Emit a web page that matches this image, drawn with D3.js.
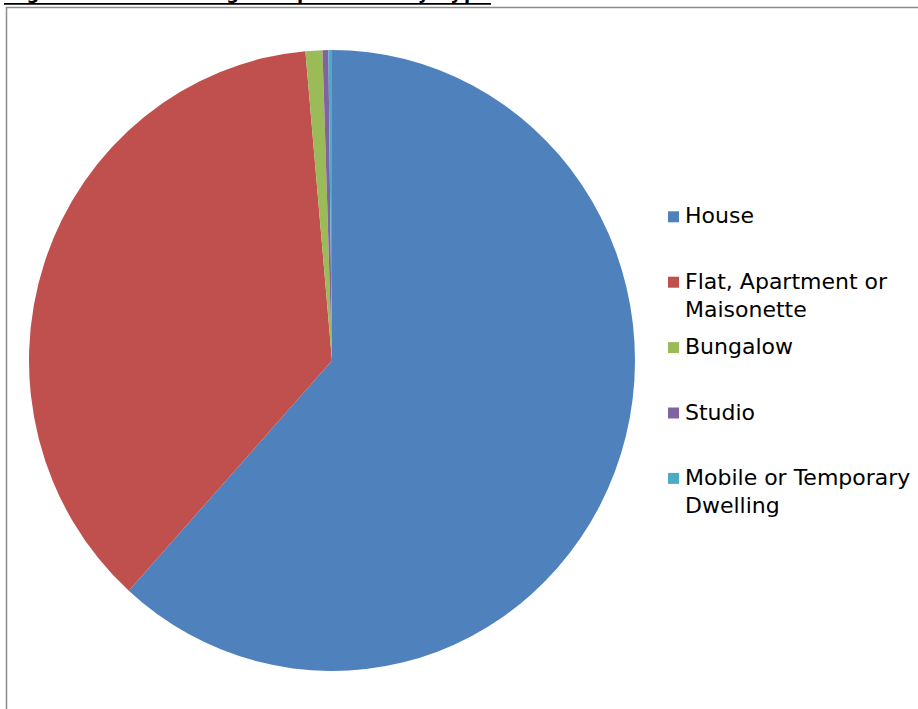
<!DOCTYPE html>
<html>
<head>
<meta charset="utf-8">
<script src="https://cdn.jsdelivr.net/npm/d3@7"></script>
<style>
  html, body { margin: 0; padding: 0; background: #ffffff; overflow: hidden; }
</style>
</head>
<body>
<div id="chartId"></div>
<script>
// dwelling types and their share (percent)
const categories = ["House", "Flat, Apartment or Maisonette", "Bungalow", "Studio", "Mobile or Temporary Dwelling"]
const shares = [61.7, 36.9, 0.9, 0.31, 0.19]
// legend text is wrapped like in the original
const legendLines = [["House"], ["Flat, Apartment or", "Maisonette"], ["Bungalow"], ["Studio"], ["Mobile or Temporary", "Dwelling"]]
const titleText = "Figure 2.1: Housing composition by type"

const WIDTH = 918
const HEIGHT = 709
// excel 2007 default palette
const SLICE_COLORS = ["#4f81bd", "#c0504d", "#9bbb59", "#8064a2", "#4bacc6"]
const FRAME_COLOR = "#8c8c8c"
const FONT = "Verdana, 'DejaVu Sans', sans-serif"

let svg = d3.select("#chartId")
    .append("svg")
    .attr("width", WIDTH)
    .attr("height", HEIGHT)

// title sits mostly above the page edge, only the underline and descenders show
svg.append("text")
    .attr("x", 4)
    .attr("y", -1)
    .attr("textLength", 487)
    .attr("lengthAdjust", "spacing")
    .attr("font-family", FONT)
    .attr("font-weight", "bold")
    .attr("font-size", 18)
    .attr("fill", "#000")
    .text(titleText)
svg.append("line")
    .attr("x1", 4)
    .attr("x2", 491)
    .attr("y1", 3.8)
    .attr("y2", 3.8)
    .attr("stroke", "#000")
    .attr("stroke-width", 1.8)

// chart frame (right and bottom edges run off the page)
svg.append("rect")
    .attr("x", 6.5)
    .attr("y", 7.5)
    .attr("width", 940)
    .attr("height", 740)
    .attr("fill", "none")
    .attr("stroke", FRAME_COLOR)
    .attr("stroke-width", 1.5)

let data = categories.map((c, i) => ({ name: c, value: shares[i] }))

let color = d3.scaleOrdinal()
    .domain(categories)
    .range(SLICE_COLORS)

let pie = d3.pie()
    .sort(null)
    .value(d => d.value)

let radius = 303
let arc = d3.arc()
    .innerRadius(0)
    .outerRadius(radius)

// the plotted pie is a little taller than wide
let pieGroup = svg.append("g")
    .attr("transform", "translate(332, 360.5) scale(1, 1.0248)")

pieGroup.selectAll("path")
    .data(pie(data))
    .join("path")
    .attr("d", arc)
    .attr("fill", d => color(d.data.name))

// legend
let legendX = 668
let legendY0 = 223.3
let legendStep = 65.4
let legend = svg.append("g")

let items = legend.selectAll("g")
    .data(data)
    .join("g")
    .attr("transform", (d, i) => "translate(" + legendX + "," + (legendY0 + i * legendStep) + ")")

items.append("rect")
    .attr("x", 0)
    .attr("y", -12)
    .attr("width", 11)
    .attr("height", 11)
    .attr("fill", d => color(d.name))

items.append("text")
    .attr("font-family", FONT)
    .attr("font-size", 22)
    .attr("fill", "#000")
    .selectAll("tspan")
    .data((d, i) => legendLines[i])
    .join("tspan")
    .attr("x", 17)
    .attr("y", (d, j) => j * 28)
    .text(d => d)
</script>
</body>
</html>
